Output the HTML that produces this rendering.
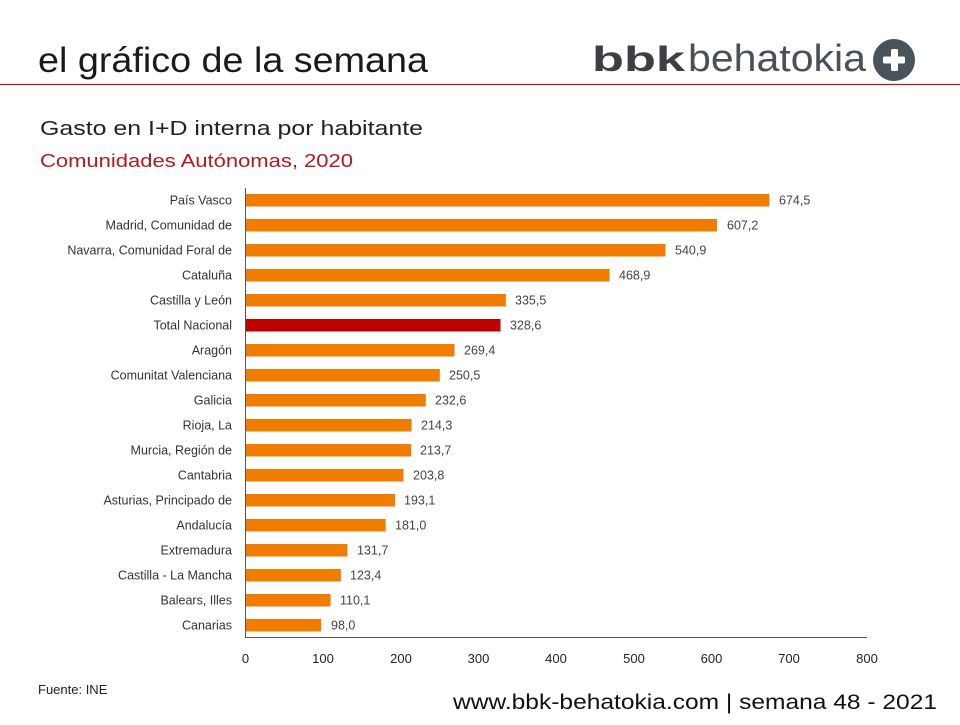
<!DOCTYPE html>
<html><head><meta charset="utf-8"><style>
html,body{margin:0;padding:0;background:#fff;}
body{width:960px;height:720px;overflow:hidden;}
</style></head><body>
<svg width="960" height="720" viewBox="0 0 960 720" xmlns="http://www.w3.org/2000/svg" font-family="Liberation Sans, DejaVu Sans, sans-serif">
<text x="38" y="72" font-size="35" fill="#1a1a1a" textLength="390" lengthAdjust="spacingAndGlyphs">el gráfico de la semana</text>
<text x="592" y="71" font-size="35" font-weight="bold" fill="#3c3f44" textLength="93" lengthAdjust="spacingAndGlyphs">bbk</text>
<text x="688" y="71" font-size="38" fill="#4a5058" textLength="178" lengthAdjust="spacingAndGlyphs">behatokia</text>
<circle cx="894" cy="60" r="21" fill="#4a525a"/>
<rect x="891" y="49" width="7" height="22" rx="1.5" fill="#fff"/>
<rect x="883" y="56.5" width="22" height="7" rx="1.5" fill="#fff"/>
<line x1="0" y1="84.5" x2="960" y2="84.5" stroke="#a51c1c" stroke-width="1.3"/>
<text x="40" y="135" font-size="20" fill="#222" textLength="383" lengthAdjust="spacingAndGlyphs">Gasto en I+D interna por habitante</text>
<text x="40" y="167" font-size="18" fill="#b3191f" textLength="313" lengthAdjust="spacingAndGlyphs">Comunidades Autónomas, 2020</text>
<g font-size="12.5" fill="#333">
<g text-anchor="end">
<text x="232" y="204.5">País Vasco</text>
<text x="232" y="229.5">Madrid, Comunidad de</text>
<text x="232" y="254.5">Navarra, Comunidad Foral de</text>
<text x="232" y="279.5">Cataluña</text>
<text x="232" y="304.5">Castilla y León</text>
<text x="232" y="329.5">Total Nacional</text>
<text x="232" y="354.5">Aragón</text>
<text x="232" y="379.5">Comunitat Valenciana</text>
<text x="232" y="404.5">Galicia</text>
<text x="232" y="429.5">Rioja, La</text>
<text x="232" y="454.5">Murcia, Región de</text>
<text x="232" y="479.5">Cantabria</text>
<text x="232" y="504.5">Asturias, Principado de</text>
<text x="232" y="529.5">Andalucía</text>
<text x="232" y="554.5">Extremadura</text>
<text x="232" y="579.5">Castilla - La Mancha</text>
<text x="232" y="604.5">Balears, Illes</text>
<text x="232" y="629.5">Canarias</text>
</g>
<g fill="#f07d00">
<rect x="245" y="194" width="524.4" height="12.5"/>
<rect x="245" y="219" width="472.1" height="12.5"/>
<rect x="245" y="244" width="420.5" height="12.5"/>
<rect x="245" y="269" width="364.6" height="12.5"/>
<rect x="245" y="294" width="260.9" height="12.5"/>
<rect x="245" y="319" width="255.5" height="12.5" fill="#c00000"/>
<rect x="245" y="344" width="209.5" height="12.5"/>
<rect x="245" y="369" width="194.8" height="12.5"/>
<rect x="245" y="394" width="180.8" height="12.5"/>
<rect x="245" y="419" width="166.6" height="12.5"/>
<rect x="245" y="444" width="166.2" height="12.5"/>
<rect x="245" y="469" width="158.5" height="12.5"/>
<rect x="245" y="494" width="150.1" height="12.5"/>
<rect x="245" y="519" width="140.7" height="12.5"/>
<rect x="245" y="544" width="102.4" height="12.5"/>
<rect x="245" y="569" width="95.9" height="12.5"/>
<rect x="245" y="594" width="85.6" height="12.5"/>
<rect x="245" y="619" width="76.2" height="12.5"/>
</g>
<g fill="#444">
<text x="779" y="204.5">674,5</text>
<text x="727" y="229.5">607,2</text>
<text x="675" y="254.5">540,9</text>
<text x="619" y="279.5">468,9</text>
<text x="515" y="304.5">335,5</text>
<text x="510" y="329.5">328,6</text>
<text x="464" y="354.5">269,4</text>
<text x="449" y="379.5">250,5</text>
<text x="435" y="404.5">232,6</text>
<text x="421" y="429.5">214,3</text>
<text x="420" y="454.5">213,7</text>
<text x="413" y="479.5">203,8</text>
<text x="404" y="504.5">193,1</text>
<text x="395" y="529.5">181,0</text>
<text x="357" y="554.5">131,7</text>
<text x="350" y="579.5">123,4</text>
<text x="340" y="604.5">110,1</text>
<text x="331" y="629.5">98,0</text>
</g>
</g>
<line x1="245.5" y1="188" x2="245.5" y2="637" stroke="#555" stroke-width="1"/>
<line x1="245" y1="637.5" x2="867" y2="637.5" stroke="#555" stroke-width="1"/>
<g font-size="13" fill="#222" text-anchor="middle">
<text x="245.5" y="663">0</text>
<text x="323" y="663">100</text>
<text x="401" y="663">200</text>
<text x="478.5" y="663">300</text>
<text x="556" y="663">400</text>
<text x="634" y="663">500</text>
<text x="711.5" y="663">600</text>
<text x="789" y="663">700</text>
<text x="867" y="663">800</text>
</g>
<text x="38" y="694" font-size="13" fill="#222">Fuente: INE</text>
<text x="453" y="709" font-size="21" fill="#111" textLength="484" lengthAdjust="spacingAndGlyphs">www.bbk-behatokia.com | semana 48 - 2021</text>
</svg>
</body></html>
